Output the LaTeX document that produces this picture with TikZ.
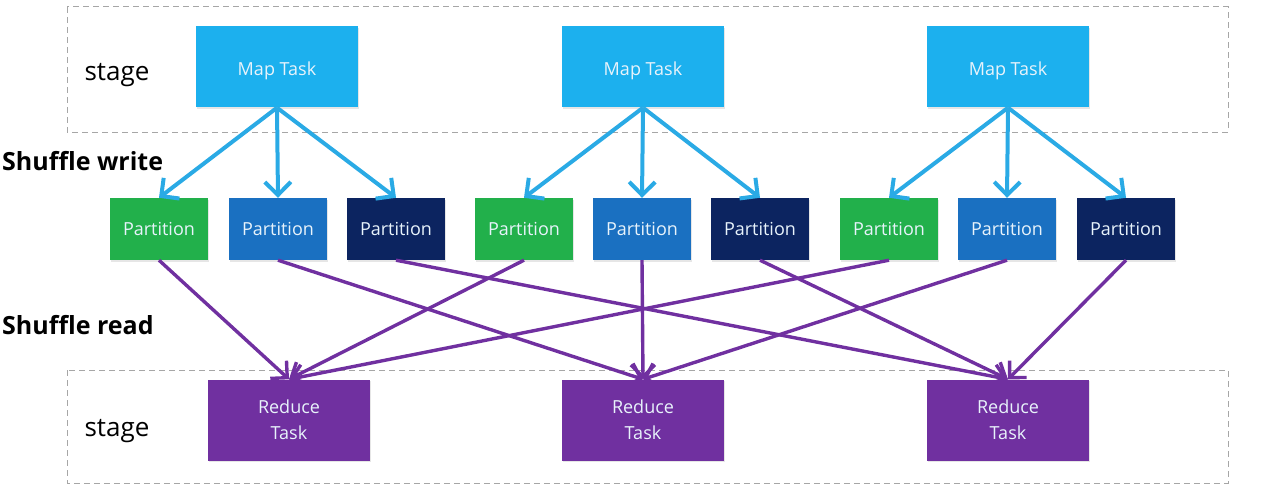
\documentclass[tikz,border=0pt]{standalone}
\usepackage{fontspec}
\setmainfont{Open Sans}
\usepackage{xcolor}
\usetikzlibrary{arrows.meta,shadows}
\definecolor{MapBlue}{HTML}{1CB0EE}
\definecolor{PartGreen}{HTML}{22B04B}
\definecolor{PartBlue}{HTML}{1A70C1}
\definecolor{PartNavy}{HTML}{0C2460}
\definecolor{ReduceViolet}{HTML}{7030A0}
\definecolor{ArrowBlue}{HTML}{2AAAE5}
\definecolor{ArrowViolet}{HTML}{7030A0}
\definecolor{TextLight}{HTML}{E8F3FB}
\definecolor{StageEdge}{HTML}{A6A6A6}
\tikzset{
    taskbox/.style={
        fill=#1,
        text=TextLight,
        minimum width=162pt,
        minimum height=81pt,
        align=center,
        inner sep=0pt,
        font=\fontsize{18}{26}\selectfont,
        drop shadow={opacity=0.2,shadow xshift=1pt,shadow yshift=-1.5pt}
    },
    mapbox/.style={taskbox=MapBlue, text height=22pt, text depth=4pt},
    partbox/.style={
        taskbox=#1,
        minimum width=98pt,
        minimum height=62pt
    },
    stageframe/.style={draw=StageEdge, dashed, line width=1pt, dash pattern=on 6pt off 4pt},
    writearrow/.style={draw=ArrowBlue, line width=4pt, -{Straight Barb[length=13pt,width=26pt,line width=4pt]}},
    readarrow/.style={draw=ArrowViolet, line width=3.4pt, -{Straight Barb[length=12pt,width=24pt,line width=3.4pt]}},
    sidelabel/.style={anchor=west, inner sep=0pt, font=\fontsize{25}{30}\selectfont\bfseries}
}

\begin{document}
\begin{tikzpicture}[x=1pt,y=-1pt]
    \useasboundingbox (0,0) rectangle (1265,492);
    % stage frames
    \draw[stageframe] (67,7) rectangle (1228,132);
    \draw[stageframe] (67,370) rectangle (1228,483);
    \node[anchor=center, font=\fontsize{26}{30}\selectfont] (st1) at (117,75) {stage};
    \node[anchor=center, font=\fontsize{26}{30}\selectfont] (st2) at (117,431) {stage};
    \node[sidelabel] (sw) at (2,161) {Shuffle write};
    \node[sidelabel] (sr) at (2,325) {Shuffle read};
    % map tasks
    \node[mapbox] (m1) at (277,67) {Map Task};
    \node[mapbox] (m2) at (643,67) {Map Task};
    \node[mapbox] (m3) at (1008,67) {Map Task};
    % partitions
    \node[partbox=PartGreen] (p1) at (159,229) {Partition};
    \node[partbox=PartBlue]  (p2) at (278,229) {Partition};
    \node[partbox=PartNavy]  (p3) at (396,229) {Partition};
    \node[partbox=PartGreen] (p4) at (524,229) {Partition};
    \node[partbox=PartBlue]  (p5) at (642,229) {Partition};
    \node[partbox=PartNavy]  (p6) at (760,229) {Partition};
    \node[partbox=PartGreen] (p7) at (889,229) {Partition};
    \node[partbox=PartBlue]  (p8) at (1007,229) {Partition};
    \node[partbox=PartNavy]  (p9) at (1126,229) {Partition};
    % reduce tasks
    \node[taskbox=ReduceViolet] (r1) at (289,420) {Reduce\\Task};
    \node[taskbox=ReduceViolet] (r2) at (643,420) {Reduce\\Task};
    \node[taskbox=ReduceViolet] (r3) at (1008,420) {Reduce\\Task};
    % shuffle write
    \foreach \m/\a/\b/\c in {m1/p1/p2/p3, m2/p4/p5/p6, m3/p7/p8/p9} {
        \draw[writearrow] (\m.south) -- (\a.north);
        \draw[writearrow] (\m.south) -- (\b.north);
        \draw[writearrow] (\m.south) -- (\c.north);
    }
    % shuffle read
    \foreach \p/\r in {p1/r1, p2/r2, p3/r3, p4/r1, p5/r2, p6/r3, p7/r1, p8/r2, p9/r3} {
        \draw[readarrow] (\p.south) -- (\r.north);
    }
\end{tikzpicture}
\end{document}
